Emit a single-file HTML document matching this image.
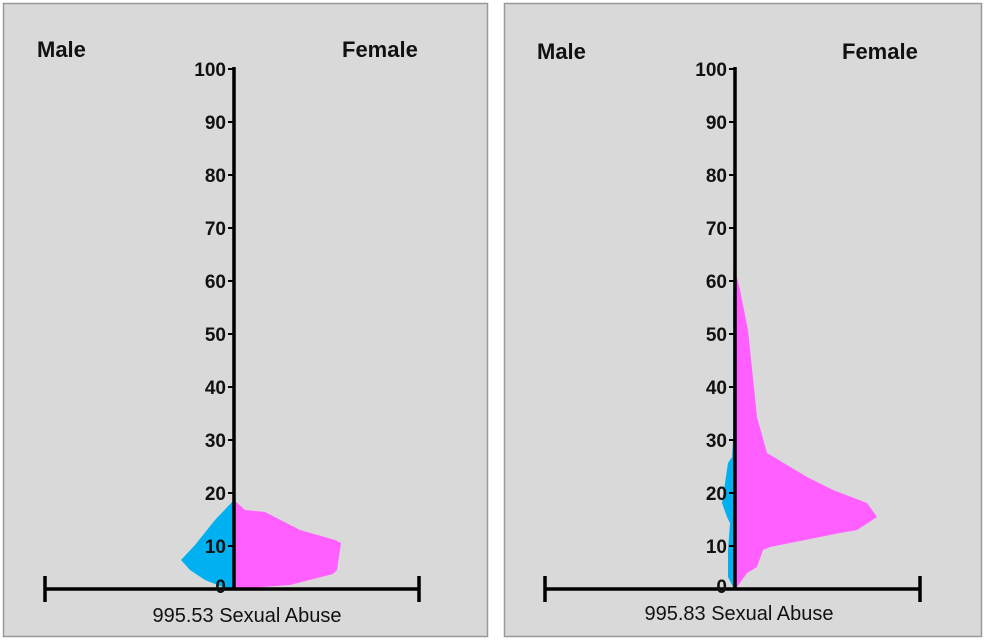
<!DOCTYPE html>
<html><head><style>
body{margin:0;background:#fff;}
svg{display:block;font-family:"Liberation Sans",sans-serif;}
</style></head><body>
<svg width="986" height="643" viewBox="0 0 986 643">
<rect x="3.5" y="3.5" width="484" height="633" fill="#d9d9d9" stroke="#999" stroke-width="1.5"/>
<rect x="504.5" y="3.5" width="477" height="633" fill="#d9d9d9" stroke="#999" stroke-width="1.5"/>
<g font-size="22" font-weight="bold" fill="#111">
<text x="37" y="57">Male</text><text x="342" y="57">Female</text>
<text x="537" y="59">Male</text><text x="842" y="59">Female</text>
</g>
<polygon fill="#00b0f0" points="234,500 215,520 195,545 181,560 190,570 205,580 225,588 234,589"/>
<polygon fill="#ff5fff" points="234,500 245,510 265,512 300,530 335,540 341,543 337,570 333,574 290,585 234,589"/>
<polygon fill="#00b0f0" points="735,160 733,300 733,440 732,457 728,463 722,503 727,517 730,523 728,550 728,577 733,587 735,589"/>
<polygon fill="#ff5fff" points="735,270 740,290 748,330 757,417 767,453 807,477 833,490 867,503 877,517 857,530 840,533 770,547 763,550 757,567 747,573 737,587 735,589"/>
<g stroke="#000" stroke-width="3.5" fill="none">
<line x1="234" y1="67" x2="234" y2="590"/>
<line x1="45" y1="589" x2="419" y2="589"/>
<line x1="45" y1="576" x2="45" y2="602"/><line x1="419" y1="576" x2="419" y2="602"/>
<line x1="735" y1="67" x2="735" y2="590"/>
<line x1="545" y1="589" x2="920" y2="589"/>
<line x1="545" y1="576" x2="545" y2="602"/><line x1="920" y1="576" x2="920" y2="602"/>
</g>
<g stroke="#000" stroke-width="2">
<line x1="228" y1="69" x2="234" y2="69"/><line x1="228" y1="122" x2="234" y2="122"/><line x1="228" y1="175" x2="234" y2="175"/><line x1="228" y1="228" x2="234" y2="228"/><line x1="228" y1="281" x2="234" y2="281"/><line x1="228" y1="334" x2="234" y2="334"/><line x1="228" y1="387" x2="234" y2="387"/><line x1="228" y1="440" x2="234" y2="440"/><line x1="228" y1="493" x2="234" y2="493"/><line x1="228" y1="546" x2="234" y2="546"/>
<line x1="729" y1="69" x2="735" y2="69"/><line x1="729" y1="122" x2="735" y2="122"/><line x1="729" y1="175" x2="735" y2="175"/><line x1="729" y1="228" x2="735" y2="228"/><line x1="729" y1="281" x2="735" y2="281"/><line x1="729" y1="334" x2="735" y2="334"/><line x1="729" y1="387" x2="735" y2="387"/><line x1="729" y1="440" x2="735" y2="440"/><line x1="729" y1="493" x2="735" y2="493"/><line x1="729" y1="546" x2="735" y2="546"/>
</g>
<g font-size="19" font-weight="bold" fill="#111" text-anchor="end">
<text x="226" y="76">100</text><text x="226" y="129">90</text><text x="226" y="182">80</text><text x="226" y="235">70</text><text x="226" y="288">60</text><text x="226" y="341">50</text><text x="226" y="394">40</text><text x="226" y="447">30</text><text x="226" y="500">20</text><text x="226" y="553">10</text><text x="226" y="593">0</text>
<text x="727" y="76">100</text><text x="727" y="129">90</text><text x="727" y="182">80</text><text x="727" y="235">70</text><text x="727" y="288">60</text><text x="727" y="341">50</text><text x="727" y="394">40</text><text x="727" y="447">30</text><text x="727" y="500">20</text><text x="727" y="553">10</text><text x="727" y="593">0</text>
</g>
<g font-size="20" fill="#111" text-anchor="middle">
<text x="247" y="622">995.53 Sexual Abuse</text>
<text x="739" y="620">995.83 Sexual Abuse</text>
</g>
</svg>
</body></html>
